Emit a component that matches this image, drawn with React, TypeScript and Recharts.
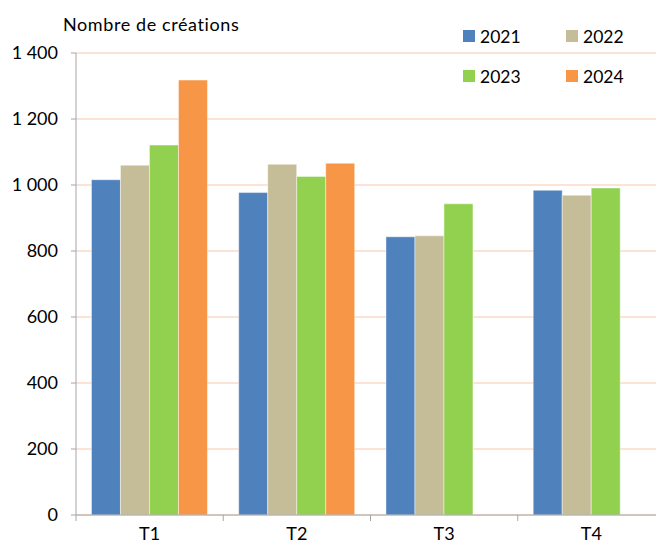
import React from 'react';
import { BarChart, Bar, XAxis, YAxis, CartesianGrid } from 'recharts';

const quarters = ['T1', 'T2', 'T3', 'T4'];
const y2021 = [1016, 977, 843, 984];
const y2022 = [1060, 1063, 846, 969];
const y2023 = [1121, 1026, 943, 991];
const y2024 = [1318, 1066, null, null];
const yTicks = [0, 200, 400, 600, 800, 1000, 1200, 1400];

const series = [
    { key: 'y2021', name: '2021', color: '#4F81BD' },
    { key: 'y2022', name: '2022', color: '#C4BD97' },
    { key: 'y2023', name: '2023', color: '#92D050' },
    { key: 'y2024', name: '2024', color: '#F79646' },
];

const data = quarters.map((q, i) => ({
    q,
    y2021: y2021[i],
    y2022: y2022[i],
    y2023: y2023[i],
    y2024: y2024[i],
}));

const FONT = 'Lato, "Open Sans", sans-serif';
const fmt = (v: number) => String(v).replace(/\B(?=(\d{3})+(?!\d))/g, ' ');

// plot is 589px wide, 4 categories
const HALF_BAND = 589 / 4 / 2;

const XTick = (props: any) => {
    const { x, y, payload } = props;
    const left = x - HALF_BAND;
    return (
        <g>
            <line x1={left} y1={y - 8} x2={left} y2={y - 2} stroke="#A6A6A6" />
            <text x={x} y={y + 17} textAnchor="middle" fill="#000" fontSize={18} fontFamily={FONT}>
                {payload.value}
            </text>
        </g>
    );
};

const LegendBox = () => (
    <div style={{ position: 'absolute', left: 463, top: 24, display: 'grid', gridTemplateColumns: '103px 60px', rowGap: 16, fontFamily: FONT, fontSize: 17.5, color: '#000' }}>
        {series.map((s) => (
            <div key={s.key} style={{ display: 'flex', alignItems: 'center', height: 24 }}>
                <span style={{ width: 12, height: 12, background: s.color, marginRight: 5, display: 'inline-block' }} />
                <span>{s.name}</span>
            </div>
        ))}
    </div>
);

export default function App() {
    return (
        <div style={{ position: 'fixed', left: 0, top: 0, width: 656, height: 544, overflow: 'hidden', background: '#fff' }}>
            <BarChart
                width={670}
                height={544}
                data={data}
                margin={{ top: 53, right: 5, left: 0, bottom: 0 }}
                barCategoryGap="10.5%"
                barGap={0}
            >
                <CartesianGrid vertical={false} stroke="#FADBC8" strokeWidth={1.5} />
                <XAxis
                    dataKey="q"
                    height={29}
                    tick={<XTick />}
                    tickLine={false}
                    axisLine={{ stroke: '#A6A6A6' }}
                    interval={0}
                />
                <YAxis
                    width={76}
                    domain={[0, 1400]}
                    ticks={yTicks}
                    tickFormatter={fmt}
                    tickSize={5}
                    tickMargin={13}
                    axisLine={{ stroke: '#A6A6A6' }}
                    tickLine={{ stroke: '#A6A6A6' }}
                    tick={{ fill: '#000', fontSize: 18, fontFamily: FONT }}
                />
                {series.map((s) => (
                    <Bar
                        key={s.key}
                        dataKey={s.key}
                        name={s.name}
                        fill={s.color}
                        stroke="rgba(255,255,255,0.45)"
                        strokeWidth={1}
                        isAnimationActive={false}
                    />
                ))}
            </BarChart>
            <div style={{ position: 'absolute', left: 63, top: 13, fontFamily: FONT, fontSize: 18, letterSpacing: 0.6, color: '#000' }}>
                Nombre de créations
            </div>
            <LegendBox />
        </div>
    );
}
